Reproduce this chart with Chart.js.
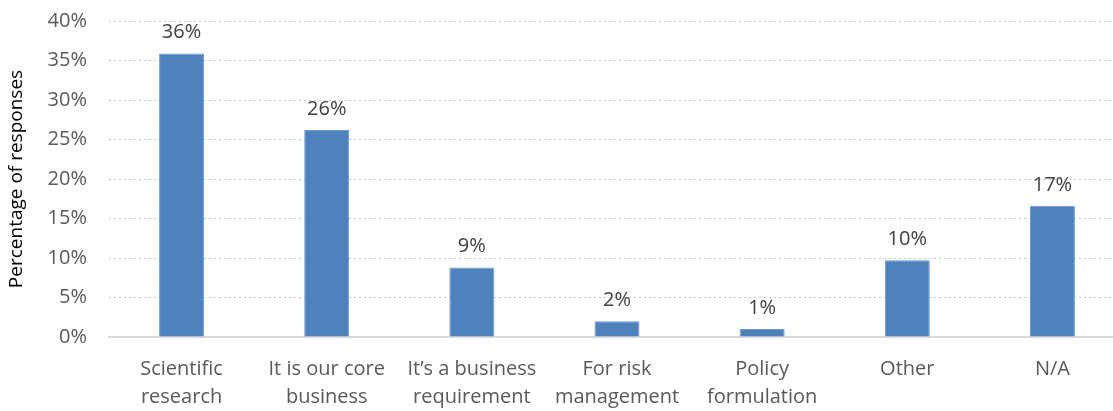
<!DOCTYPE html>
<html>
<head>
<meta charset="utf-8">
<style>
  html, body { margin: 0; padding: 0; background: #fff; overflow: hidden; }
  #wrap { width: 1125px; height: 411px; }
</style>
</head>
<body>
<div id="wrap"><canvas id="responsesChart" width="1125" height="411"></canvas></div>
<script src="https://cdn.jsdelivr.net/npm/chart.js"></script>
<script>
    // values
    const categories = [
        ['Scientific', 'research'],
        ['It is our core', 'business'],
        ['It\u2019s a business', 'requirement'],
        ['For risk', 'management'],
        ['Policy', 'formulation'],
        'Other',
        'N/A'
    ];
    const shares = [35.9, 26.2, 8.8, 2.0, 1.0, 9.7, 16.6];
    const shareLabels = ['36%', '26%', '9%', '2%', '1%', '10%', '17%'];
    const yTicks = [0, 5, 10, 15, 20, 25, 30, 35, 40];

    const fontFamily = '"Open Sans", "Liberation Sans", Arial, sans-serif';

    // draws the percentage above each bar
    const barLabels = {
        id: 'barLabels',
        afterDatasetsDraw(chart) {
            const ctx = chart.ctx;
            const meta = chart.getDatasetMeta(0);
            ctx.save();
            ctx.font = '20px ' + fontFamily;
            ctx.fillStyle = '#404040';
            ctx.textAlign = 'center';
            ctx.textBaseline = 'middle';
            meta.data.forEach((bar, i) => {
                ctx.fillText(shareLabels[i], bar.x, bar.y - 21);
            });
            ctx.restore();
        }
    };

    const ctx = document.getElementById('responsesChart').getContext('2d');
    new Chart(ctx, {
        type: 'bar',
        data: {
            labels: categories,
            datasets: [{
                data: shares,
                backgroundColor: '#4f81bd',
                borderColor: '#6f9ad0',
                borderWidth: 1,
                barPercentage: 0.31,
                categoryPercentage: 1
            }]
        },
        options: {
            responsive: false,
            animation: false,
            layout: { padding: { top: 21, right: 0, left: 0, bottom: 0 } },
            plugins: {
                legend: { display: false },
                tooltip: { enabled: false }
            },
            scales: {
                x: {
                    grid: { display: false },
                    border: { display: true, color: '#d9d9d9', width: 2 },
                    ticks: {
                        color: '#595959',
                        font: { family: fontFamily, size: 20, lineHeight: 1.4 },
                        maxRotation: 0,
                        autoSkip: false,
                        padding: 10
                    },
                    afterFit(scale) { scale.height = 74; }
                },
                y: {
                    min: 0,
                    max: 40,
                    afterBuildTicks(scale) {
                        scale.ticks = yTicks.map(v => ({ value: v }));
                    },
                    grid: {
                        drawTicks: false,
                        color: c => c.tick && c.tick.value === 0 ? 'rgba(0,0,0,0)' : '#c8c8c8',
                        lineWidth: 1
                    },
                    border: { display: false, dash: [2, 3] },
                    ticks: {
                        color: '#595959',
                        font: { family: fontFamily, size: 20 },
                        padding: 22,
                        callback: v => v + '%'
                    },
                    title: {
                        display: true,
                        text: 'Percentage of responses',
                        color: '#000',
                        font: { family: fontFamily, size: 19 },
                        padding: { top: 5, bottom: 0 }
                    },
                    afterFit(scale) {
                        scale.width = 109;
                        scale.paddingTop = 0;
                    }
                }
            }
        },
        plugins: [barLabels]
    });
</script>
</body>
</html>
